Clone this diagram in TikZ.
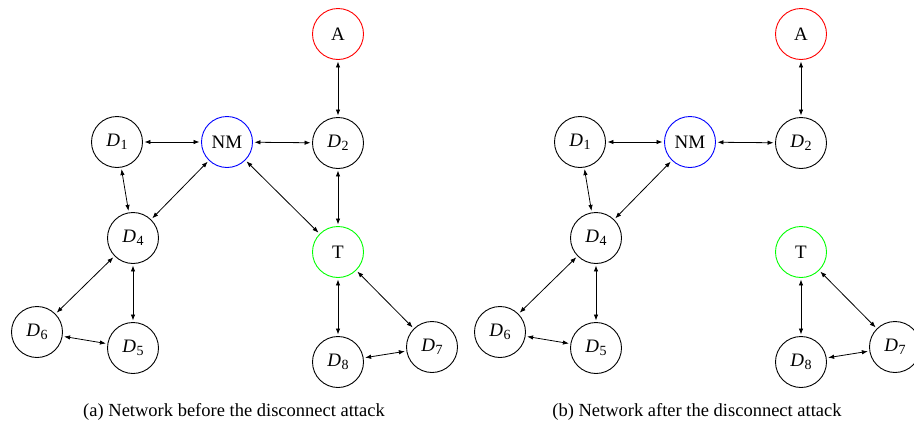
\documentclass[tikz,border=0pt]{standalone}
\usepackage{fontspec}
\setmainfont{Liberation Serif}
\usetikzlibrary{arrows.meta}
\newcommand\Dn[1]{\textit{D}\kern0.3pt\raisebox{-0.3ex}{\fontsize{14}{14}\selectfont #1}}
\tikzset{
  dev/.style={circle,draw=black,line width=0.9pt,minimum size=51pt,inner sep=0pt,font=\fontsize{19}{22}\selectfont},
  link/.style={{Latex[length=6pt,width=4.5pt]}-{Latex[length=6pt,width=4.5pt]},line width=0.8pt,shorten >=1.5pt,shorten <=1.5pt},
  captxt/.style={font=\fontsize{18.5}{22}\selectfont,anchor=base}
}
\begin{document}
\begin{tikzpicture}[x=1pt,y=-1pt]
\useasboundingbox (0,0) rectangle (914,426);
% left diagram
\node[dev,draw=red] (aA) at (338,34) {A};
\node[dev] (aD1) at (117,142) {\Dn{1}};
\node[dev,draw=blue] (aNM) at (227,142) {NM};
\node[dev] (aD2) at (338,143) {\Dn{2}};
\node[dev] (aD4) at (133,238) {\Dn{4}};
\node[dev,draw=green] (aT) at (338,252) {T};
\node[dev] (aD6) at (37,332) {\Dn{6}};
\node[dev] (aD5) at (133,348) {\Dn{5}};
\node[dev] (aD8) at (338,362) {\Dn{8}};
\node[dev] (aD7) at (432,347) {\Dn{7}};
\draw[link] (aA) -- (aD2);
\draw[link] (aD1) -- (aNM);
\draw[link] (aNM) -- (aD2);
\draw[link] (aD1) -- (aD4);
\draw[link] (aNM) -- (aD4);
\draw[link] (aNM) -- (aT);
\draw[link] (aD2) -- (aT);
\draw[link] (aD4) -- (aD6);
\draw[link] (aD4) -- (aD5);
\draw[link] (aD6) -- (aD5);
\draw[link] (aT) -- (aD8);
\draw[link] (aT) -- (aD7);
\draw[link] (aD8) -- (aD7);
\node[captxt] (capa) at (234,416) {(a) Network before the disconnect attack};
% right diagram
\node[dev,draw=red] (bA) at (801,34) {A};
\node[dev] (bD1) at (580,142) {\Dn{1}};
\node[dev,draw=blue] (bNM) at (690,142) {NM};
\node[dev] (bD2) at (801,143) {\Dn{2}};
\node[dev] (bD4) at (596,238) {\Dn{4}};
\node[dev,draw=green] (bT) at (801,252) {T};
\node[dev] (bD6) at (500,332) {\Dn{6}};
\node[dev] (bD5) at (596,348) {\Dn{5}};
\node[dev] (bD8) at (801,362) {\Dn{8}};
\node[dev] (bD7) at (895,347) {\Dn{7}};
\draw[link] (bA) -- (bD2);
\draw[link] (bD1) -- (bNM);
\draw[link] (bNM) -- (bD2);
\draw[link] (bD1) -- (bD4);
\draw[link] (bNM) -- (bD4);
\draw[link] (bD4) -- (bD6);
\draw[link] (bD4) -- (bD5);
\draw[link] (bD6) -- (bD5);
\draw[link] (bT) -- (bD8);
\draw[link] (bT) -- (bD7);
\draw[link] (bD8) -- (bD7);
\node[captxt] (capb) at (697,416) {(b) Network after the disconnect attack};
\end{tikzpicture}
\end{document}
